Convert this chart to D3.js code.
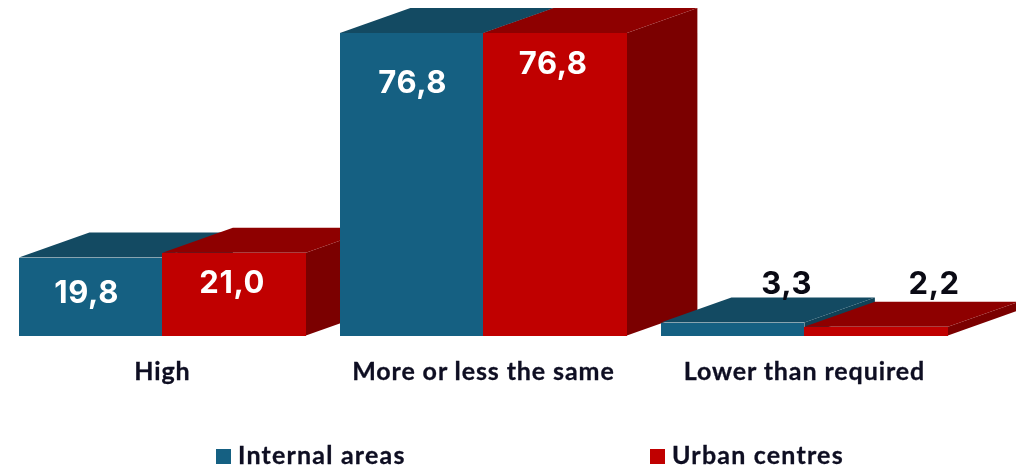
<!DOCTYPE html>
<html><head><meta charset="utf-8">
<script src="https://cdn.jsdelivr.net/npm/d3@7"></script>
<style>html,body{margin:0;padding:0;background:#fff}svg{display:block;filter:blur(0.45px)}</style>
</head><body><div id="c"></div>
<script>
const categories = ["High", "More or less the same", "Lower than required"];
const seriesNames = ["Internal areas", "Urban centres"];
const internalAreas = [19.8, 76.8, 3.3];
const urbanCentres = [21.0, 76.8, 2.2];
const valueLabels = [["19,8","76,8","3,3"],["21,0","76,8","2,2"]];
const labelShift = [[[-4,34],[1,48],[54,-40]],[[-2,29],[-2,29],[58,-44]]];
const palette = [{front:"#156082",top:"#134a62",side:"#104257"},{front:"#c00000",top:"#8e0000",side:"#7b0000"}];
const W=1016,H=468,dx=70.5,dy=25;
const svg=d3.select("#c").append("svg").attr("width",W).attr("height",H);
const x0=d3.scaleBand().domain(categories).range([18.9,947.9]).paddingInner(68/642).paddingOuter(0);
const x1=d3.scaleBand().domain([0,1]).range([0,x0.bandwidth()]);
const y=d3.scaleLinear().domain([0,80]).range([335.5,20.4]);
const series=[internalAreas,urbanCentres];
const rows=[];
categories.forEach((c,i)=>series.forEach((s,j)=>rows.push({c,i,j,v:s[i]})));
const g=svg.selectAll("g.bar").data(rows).join("g").attr("class","bar");
const X=d=>x0(d.c)+x1(d.j), B=x1.bandwidth();
g.append("polygon").attr("fill",d=>palette[d.j].side).attr("points",d=>{const r=X(d)+B,t=y(d.v),b=y(0);return [[r,t],[r+dx,t-dy],[r+dx,b-dy],[r,b]].join(" ")});
g.append("polygon").attr("fill",d=>palette[d.j].top).attr("points",d=>{const l=X(d),r=l+B,t=y(d.v);return [[l,t],[l+dx,t-dy],[r+dx,t-dy],[r,t]].join(" ")});
g.append("rect").attr("fill",d=>palette[d.j].front).attr("shape-rendering","crispEdges").attr("x",X).attr("width",B).attr("y",d=>y(d.v)).attr("height",d=>y(0)-y(d.v));
svg.selectAll("text.val").data(rows).join("text").attr("class","val")
 .attr("x",d=>X(d)+B/2+labelShift[d.j][d.i][0]).attr("y",d=>y(d.v)+labelShift[d.j][d.i][1])
 .attr("text-anchor","middle").attr("dominant-baseline","central")
 .attr("font-family","Inter").attr("font-weight",700).attr("font-size",31).attr("letter-spacing",0.6)
 .attr("fill",d=>d.i===2?"#0a0a14":"#fff").text(d=>valueLabels[d.j][d.i]);
svg.selectAll("text.cat").data(categories).join("text").attr("class","cat")
 .attr("x",d=>x0(d)+x0.bandwidth()/2).attr("y",380).attr("text-anchor","middle")
 .attr("font-family","Lato").attr("font-weight",700).attr("font-size",25).attr("letter-spacing",0.9)
 .attr("stroke","#0e0e22").attr("stroke-width",0.3).attr("fill","#0e0e22").text(d=>d);
const legendX=d3.scaleOrdinal().domain(seriesNames).range([216,650]);
const lg=svg.selectAll("g.lg").data(seriesNames).join("g").attr("class","lg").attr("transform",d=>`translate(${legendX(d)},449)`);
lg.append("rect").attr("width",15).attr("height",15).attr("fill",(d,i)=>palette[i].front);
lg.append("text").attr("x",22).attr("y",15).attr("font-family","Lato").attr("font-weight",700).attr("font-size",25).attr("letter-spacing",1.2)
 .attr("stroke","#0e0e22").attr("stroke-width",0.3).attr("fill","#0e0e22").text(d=>d);
</script></body></html>
